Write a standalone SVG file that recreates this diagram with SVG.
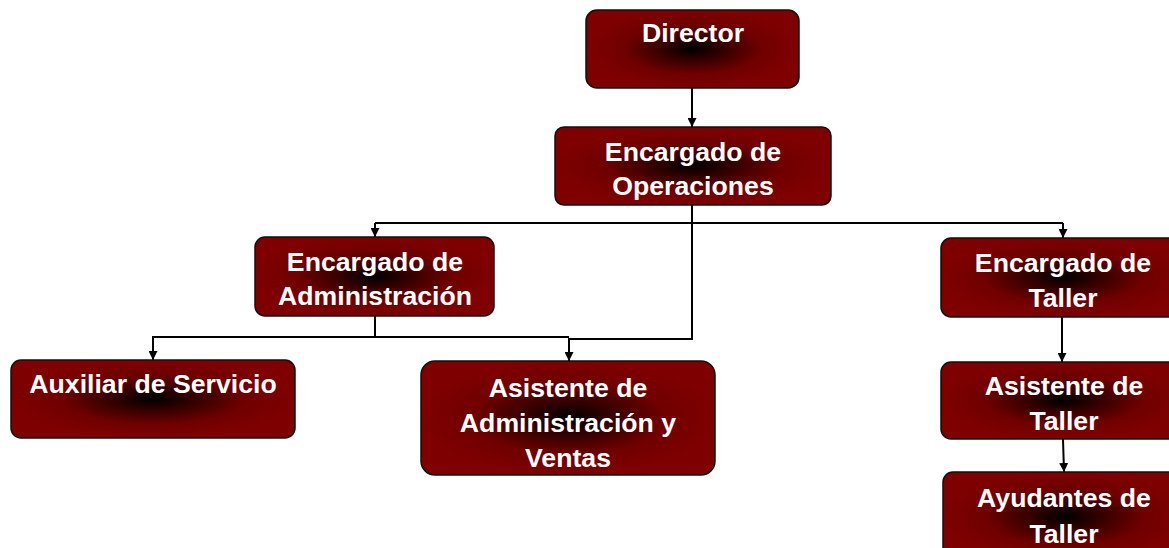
<svg xmlns="http://www.w3.org/2000/svg" width="1169" height="548" viewBox="0 0 1169 548">
<defs>
<radialGradient id="g" cx="0.5" cy="0.5" r="0.5">
<stop offset="0" stop-color="#000000"/>
<stop offset="0.25" stop-color="#2e0000"/>
<stop offset="0.65" stop-color="#700000"/>
<stop offset="1" stop-color="#7f0000"/>
</radialGradient>
<marker id="a" viewBox="0 0 10 10" refX="10" refY="5" markerWidth="9" markerHeight="9" markerUnits="userSpaceOnUse" orient="auto">
<path d="M0,0 L10,5 L0,10 z" fill="#000"/>
</marker>
</defs>
<style>
.box{fill:url(#g);stroke:#111;stroke-width:1.5}
.t{font-family:"Liberation Sans",Arial,sans-serif;font-weight:bold;font-size:26.67px;fill:#fff;text-anchor:middle}
.c{fill:none;stroke:#000;stroke-width:2}
.ar{marker-end:url(#a)}
</style>
<rect width="1169" height="548" fill="#fff"/>
<g id="connectors">
<path class="c ar" d="M692,88 V127"/>
<path class="c" d="M692,205 V223 M375,223 H1063"/>
<path class="c ar" d="M375,223 V237"/>
<path class="c ar" d="M1063,223 V238"/>
<path class="c ar" d="M692,223 V339 H569 V361"/>
<path class="c" d="M375,316 V337 H569"/>
<path class="c ar" d="M375,337 H153 V360"/>
<path class="c ar" d="M1062,317 V362"/>
<path class="c ar" d="M1063,439 L1064,472"/>
</g>
<g id="director">
<rect class="box" x="586" y="10" width="213" height="78" rx="11"/>
<text class="t" x="693" y="42">Director</text>
</g>
<g id="operaciones">
<rect class="box" x="555" y="127" width="276" height="78" rx="9"/>
<text class="t" x="693" y="161">Encargado de</text>
<text class="t" x="693" y="195">Operaciones</text>
</g>
<g id="administracion">
<rect class="box" x="255" y="237" width="239" height="79" rx="10"/>
<text class="t" x="375" y="271">Encargado de</text>
<text class="t" x="375" y="305">Administración</text>
</g>
<g id="auxiliar">
<rect class="box" x="11" y="360" width="284" height="78" rx="10"/>
<text class="t" x="153" y="393">Auxiliar de Servicio</text>
</g>
<g id="asistente-admin">
<rect class="box" x="421" y="361" width="294" height="114" rx="14"/>
<text class="t" x="568" y="397">Asistente de</text>
<text class="t" x="568" y="432">Administración y</text>
<text class="t" x="568" y="467">Ventas</text>
</g>
<g id="taller">
<rect class="box" x="941" y="238" width="245" height="79" rx="10"/>
<text class="t" x="1063" y="272">Encargado de</text>
<text class="t" x="1063" y="307">Taller</text>
</g>
<g id="asistente-taller">
<rect class="box" x="941" y="362" width="245" height="77" rx="10"/>
<text class="t" x="1064" y="395">Asistente de</text>
<text class="t" x="1064" y="430">Taller</text>
</g>
<g id="ayudantes">
<rect class="box" x="943" y="472" width="245" height="90" rx="10"/>
<text class="t" x="1064" y="507">Ayudantes de</text>
<text class="t" x="1064" y="543">Taller</text>
</g>
</svg>
